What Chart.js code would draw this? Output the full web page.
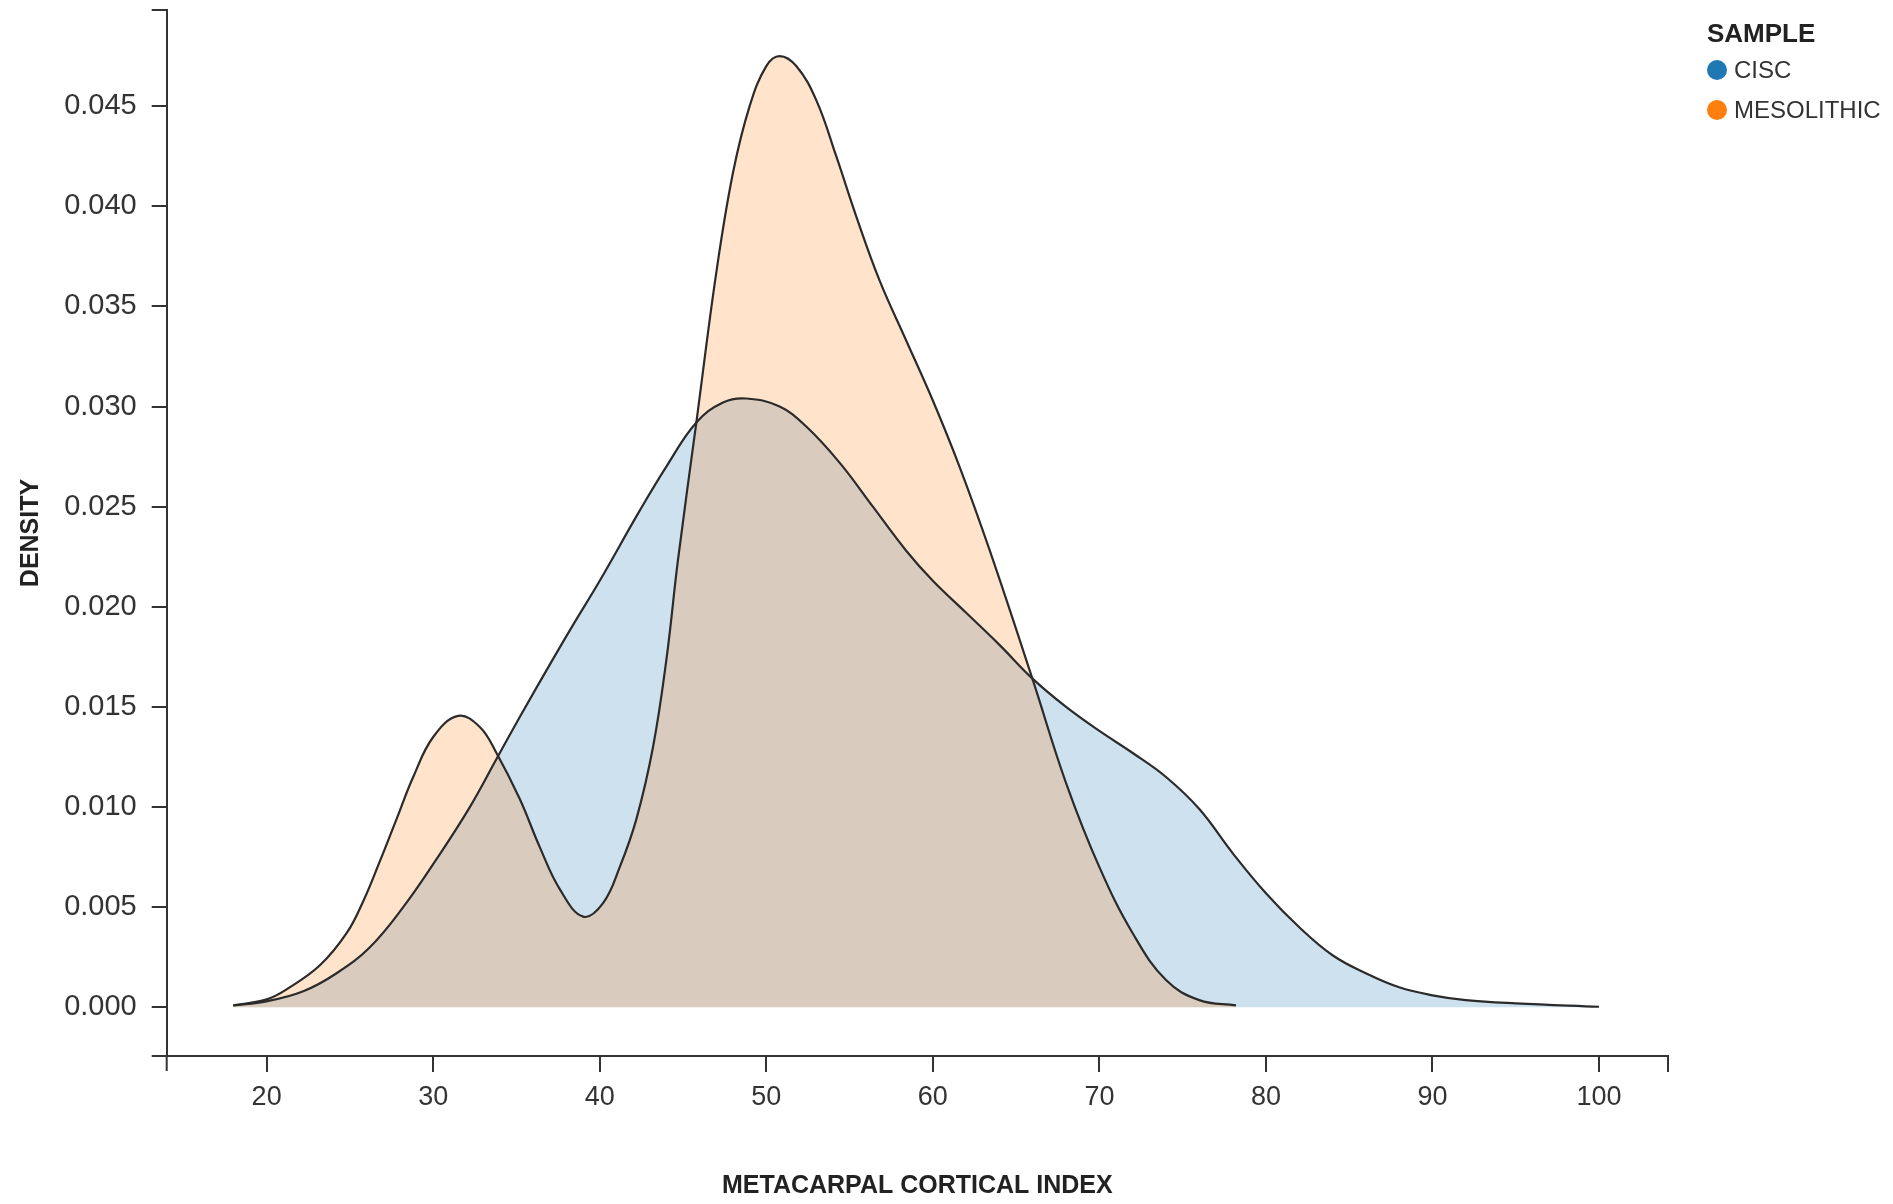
<!DOCTYPE html>
<html>
<head>
<meta charset="utf-8">
<title>Metacarpal cortical index density</title>
<script src="https://cdn.jsdelivr.net/npm/chart.js@4.4.1/dist/chart.umd.min.js"></script>
<style>
  body { margin: 0; background: #fff; }
  #wrap { position: relative; width: 1893px; height: 1204px; }
  #legend {
    position: absolute; left: 1707px; top: 18px;
    font-family: 'Liberation Sans', Arial, sans-serif; color: #333;
  }
  #legend .title { font-weight: bold; font-size: 26px; line-height: 30px; margin-bottom: 2px; color: #222; }
  #legend .row { display: flex; align-items: center; height: 40px; font-size: 24px; }
  #legend .dot { width: 20px; height: 20px; border-radius: 50%; margin-right: 7px; }
</style>
</head>
<body>
<div id="wrap">
  <canvas id="densityChart"></canvas>
  <div id="legend"></div>
</div>
<script>
// --- data ---
const seriesNames = ['CISC', 'MESOLITHIC'];
const seriesColors = ['#1f77b4', '#ff7f0e'];
const seriesFills = ['rgba(31, 119, 180, 0.22)', 'rgba(255, 127, 14, 0.22)'];

const ciscX = [18, 20, 22.2, 24.2, 26.2, 28.2, 30.2, 32.2, 33.8, 35.2, 37.2, 38.4, 40, 42.4, 44, 45.8, 47.4, 48.8, 50.8, 52.4,
  54.4, 56.4, 58.4, 60, 62, 64, 66, 68, 70, 72, 74, 76, 78, 80, 82, 84, 86, 88, 90, 92, 95, 100];
const ciscY = [0.0001, 0.0003, 0.0008, 0.0017, 0.0030, 0.0050, 0.0074, 0.0100, 0.0124, 0.0145, 0.0174, 0.0191, 0.0213, 0.0248, 0.0270, 0.0292, 0.0302, 0.0304, 0.0300, 0.0290,
  0.0272, 0.0250, 0.0228, 0.0213, 0.0197, 0.0181, 0.0164, 0.0150, 0.0138, 0.0127, 0.0115, 0.0099, 0.0077, 0.0057, 0.0040, 0.0026, 0.0017, 0.0010, 0.0006, 0.00036, 0.0002, 0.00003];

const mesoX = [18, 20, 21.2, 23.2, 24.8, 25.8, 26.8, 27.8, 28.8, 30, 31.5, 32.8, 33.8, 35.2, 36.4, 37.6, 39, 40.2, 41.2, 42.2,
  43.2, 44, 44.7, 45.8, 47, 48, 49, 50, 50.8, 51.8, 53, 54.2, 55.4, 56.8, 58.4, 60, 61.6, 63.4, 66, 68, 70, 72, 74, 76, 78.2];
const mesoY = [0.0001, 0.0004, 0.0009, 0.0021, 0.0037, 0.0053, 0.0073, 0.0094, 0.0115, 0.0135, 0.01455, 0.0140, 0.0127, 0.0104, 0.0080, 0.0059, 0.00453, 0.0052, 0.0070, 0.0094,
  0.0130, 0.01735, 0.02235, 0.0292, 0.0367, 0.04167, 0.0450, 0.0470, 0.0475, 0.0470, 0.0453, 0.0425, 0.0395, 0.0363, 0.0333, 0.0303, 0.0270, 0.02285, 0.01635, 0.0112, 0.0070, 0.0037, 0.00136, 0.00036, 0.0001];

const xTicks = [20, 30, 40, 50, 60, 70, 80, 90, 100];
const yTicks = [0, 0.005, 0.010, 0.015, 0.020, 0.025, 0.030, 0.035, 0.040, 0.045];

const axisColor = '#333';
const textColor = '#333';

Chart.defaults.font.family = "'Liberation Sans', Arial, sans-serif";
Chart.defaults.color = textColor;

function toPoints(xs, ys) {
  return xs.map((x, i) => ({ x: x, y: ys[i] }));
}

// d3-style axis ends: domain lines run past the crossing, with outer ticks
const axisEnds = {
  id: 'axisEnds',
  afterDraw(chart) {
    const { ctx, chartArea: a } = chart;
    ctx.save();
    ctx.strokeStyle = axisColor;
    ctx.lineWidth = 2;
    ctx.beginPath();
    ctx.moveTo(a.left - 15, a.top); ctx.lineTo(a.left, a.top);
    ctx.moveTo(a.left, a.bottom); ctx.lineTo(a.left, a.bottom + 15);
    ctx.moveTo(a.left - 15, a.bottom); ctx.lineTo(a.left, a.bottom);
    ctx.moveTo(a.right, a.bottom); ctx.lineTo(a.right, a.bottom + 16);
    ctx.stroke();
    ctx.restore();
  }
};

// orange fill sits on top of the blue one
const datasets = [toPoints(ciscX, ciscY), toPoints(mesoX, mesoY)].map((pts, i) => ({
  label: seriesNames[i],
  data: pts,
  order: i === 0 ? 1 : 0,
  borderColor: '#2b2b2b',
  borderWidth: 2.2,
  backgroundColor: seriesFills[i],
  fill: 'origin',
  pointRadius: 0,
  tension: 0.4
}));

new Chart(document.getElementById('densityChart'), {
  type: 'line',
  data: { datasets: datasets },
  plugins: [axisEnds],
  options: {
    responsive: true,
    maintainAspectRatio: false,
    animation: false,
    layout: { padding: { left: 0, right: 225, top: 10, bottom: 0 } },
    plugins: {
      legend: { display: false },
      tooltip: { enabled: false },
      filler: { drawTime: 'beforeDatasetsDraw' }
    },
    scales: {
      x: {
        type: 'linear',
        min: 14,
        max: 104.14,
        afterBuildTicks: scale => { scale.ticks = xTicks.map(v => ({ value: v })); },
        afterFit: scale => { scale.height = 148; scale.paddingLeft = 0; scale.paddingRight = 0; },
        grid: { drawOnChartArea: false, drawTicks: true, tickLength: 16, color: axisColor, lineWidth: 2 },
        border: { display: true, color: axisColor, width: 2 },
        ticks: { font: { size: 27 }, color: textColor, padding: 9, maxRotation: 0 },
        title: {
          display: true,
          text: 'METACARPAL CORTICAL INDEX',
          font: { size: 25, weight: 'bold' },
          color: '#222',
          padding: { top: 0, bottom: 3 }
        }
      },
      y: {
        type: 'linear',
        min: -0.00243,
        max: 0.0498,
        afterBuildTicks: scale => { scale.ticks = yTicks.map(v => ({ value: v })); },
        afterFit: scale => { scale.width = 166.7; scale.paddingTop = 0; scale.paddingBottom = 0; },
        grid: { drawOnChartArea: false, drawTicks: true, tickLength: 15, color: axisColor, lineWidth: 2 },
        border: { display: true, color: axisColor, width: 2 },
        ticks: {
          font: { size: 29 },
          color: textColor,
          padding: 15,
          callback: value => Number(value).toFixed(3)
        },
        title: {
          display: true,
          text: 'DENSITY',
          font: { size: 25, weight: 'bold' },
          color: '#222',
          padding: { top: 16, bottom: 0 }
        }
      }
    }
  }
});

// --- legend ---
const legendEl = document.getElementById('legend');
legendEl.innerHTML = '<div class="title">SAMPLE</div>' + seriesNames.map((name, i) =>
  `<div class="row"><span class="dot" style="background:${seriesColors[i]}"></span>${name}</div>`
).join('');
</script>
</body>
</html>
